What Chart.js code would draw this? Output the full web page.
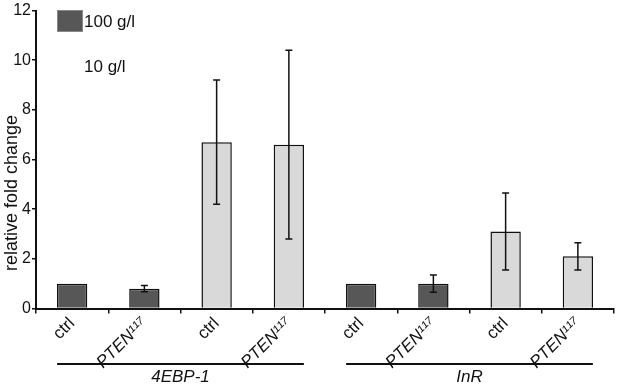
<!DOCTYPE html>
<html>
<head>
<meta charset="utf-8">
<script src="https://cdn.jsdelivr.net/npm/chart.js@4.4.0/dist/chart.umd.min.js"></script>
<style>
  body { margin: 0; background: #fff; }
  #wrap { width: 617px; height: 384px; position: relative; }
</style>
</head>
<body>
<div id="wrap"><canvas id="chart"></canvas></div>
<script>
// values
const categories = ['ctrl', 'PTEN\u00b9\u00b9\u2077', 'ctrl', 'PTEN\u00b9\u00b9\u2077', 'ctrl', 'PTEN\u00b9\u00b9\u2077', 'ctrl', 'PTEN\u00b9\u00b9\u2077'];
const groupNames = ['4EBP-1', 'InR'];
const seriesNames = ['100 g/l', '10 g/l'];
const values100 = [1.0, 0.8, null, null, 1.0, 1.0, null, null];
const values10 = [null, null, 6.7, 6.6, null, null, 3.1, 2.1];
const errors100 = [0, 0.13, null, null, 0, 0.35, null, null];
const errors10 = [null, null, 2.5, 3.8, null, null, 1.55, 0.55];
const yTicks = [0, 2, 4, 6, 8, 10, 12];

const textColor = '#111';
const fontFamily = '"Liberation Sans", Arial, sans-serif';

const errorBars = {
    id: 'errorBars',
    afterDatasetsDraw(chart) {
        const ctx = chart.ctx;
        const y = chart.scales.y;
        const errs = [errors100, errors10];
        ctx.save();
        ctx.strokeStyle = '#111';
        ctx.lineWidth = 1.5;
        chart.data.datasets.forEach((ds, di) => {
            const meta = chart.getDatasetMeta(di);
            meta.data.forEach((bar, i) => {
                const v = ds.data[i];
                const e = errs[di][i];
                if (v === null || !e) return;
                const top = y.getPixelForValue(v + e);
                const bottom = y.getPixelForValue(v - e);
                ctx.beginPath();
                ctx.moveTo(bar.x, top);
                ctx.lineTo(bar.x, bottom);
                ctx.moveTo(bar.x - 3.5, top);
                ctx.lineTo(bar.x + 3.5, top);
                ctx.moveTo(bar.x - 3.5, bottom);
                ctx.lineTo(bar.x + 3.5, bottom);
                ctx.stroke();
            });
        });
        ctx.restore();
    }
};

const extras = {
    id: 'extras',
    afterDraw(chart) {
        const ctx = chart.ctx;
        const x = chart.scales.x;
        ctx.save();
        ctx.fillStyle = textColor;
        // y axis title
        ctx.font = '18px ' + fontFamily;
        ctx.translate(12, 193);
        ctx.rotate(-Math.PI / 2);
        ctx.textAlign = 'center';
        ctx.textBaseline = 'middle';
        ctx.fillText('relative fold change', 0, 0);
        ctx.restore();

        // group lines under the labels
        ctx.save();
        ctx.strokeStyle = '#111';
        ctx.lineWidth = 2;
        ctx.fillStyle = textColor;
        ctx.font = 'italic 17px ' + fontFamily;
        ctx.textAlign = 'center';
        ctx.textBaseline = 'middle';
        groupNames.forEach((name, g) => {
            const x0 = x.getPixelForValue(g * 4) - 15;
            const x1 = x.getPixelForValue(g * 4 + 3) + 15;
            ctx.beginPath();
            ctx.moveTo(x0, 364);
            ctx.lineTo(x1, 364);
            ctx.stroke();
            ctx.fillText(name, (x0 + x1) / 2, 377);
        });
        ctx.restore();

        // legend
        ctx.save();
        ctx.font = '17px ' + fontFamily;
        ctx.textBaseline = 'middle';
        ctx.fillStyle = chart.data.datasets[0].backgroundColor;
        ctx.fillRect(57, 10, 26, 22);
        ctx.strokeStyle = '#888';
        ctx.lineWidth = 1;
        ctx.strokeRect(57.5, 10.5, 25, 21);
        ctx.fillStyle = textColor;
        ctx.fillText(seriesNames[0], 84, 22);
        ctx.fillText(seriesNames[1], 84, 67);
        ctx.restore();
    }
};

new Chart(document.getElementById('chart'), {
    type: 'bar',
    data: {
        labels: categories,
        datasets: [
            {
                label: seriesNames[0],
                data: values100,
                backgroundColor: '#575757',
                borderColor: '#111',
                borderWidth: 1.5
            },
            {
                label: seriesNames[1],
                data: values10,
                backgroundColor: '#d9d9d9',
                borderColor: '#111',
                borderWidth: 1.5
            }
        ]
    },
    options: {
        responsive: true,
        maintainAspectRatio: false,
        animation: false,
        categoryPercentage: 1,
        barPercentage: 0.42,
        layout: { padding: { top: 10, right: 3, left: 0, bottom: 0 } },
        plugins: {
            legend: { display: false },
            tooltip: { enabled: false }
        },
        scales: {
            x: {
                stacked: true,
                grid: {
                    display: true,
                    drawOnChartArea: false,
                    offset: true,
                    color: '#111',
                    tickLength: 5,
                    lineWidth: 1.5
                },
                border: { color: '#111', width: 2 },
                ticks: {
                    autoSkip: false,
                    minRotation: 45,
                    maxRotation: 45,
                    padding: 0,
                    color: textColor,
                    font: c => ({
                        family: fontFamily,
                        size: 17,
                        style: c.index % 2 === 1 ? 'italic' : 'normal'
                    })
                },
                afterFit: s => { s.height = 75.5; }
            },
            y: {
                min: 0,
                max: 12,
                afterBuildTicks: s => { s.ticks = yTicks.map(v => ({ value: v })); },
                grid: {
                    display: true,
                    drawOnChartArea: false,
                    color: '#111',
                    tickLength: 4,
                    lineWidth: 1.5
                },
                border: { color: '#111', width: 2 },
                ticks: {
                    padding: 1,
                    color: textColor,
                    font: { family: fontFamily, size: 16 }
                },
                afterFit: s => { s.width = 36; }
            }
        }
    },
    plugins: [errorBars, extras]
});
</script>
</body>
</html>
